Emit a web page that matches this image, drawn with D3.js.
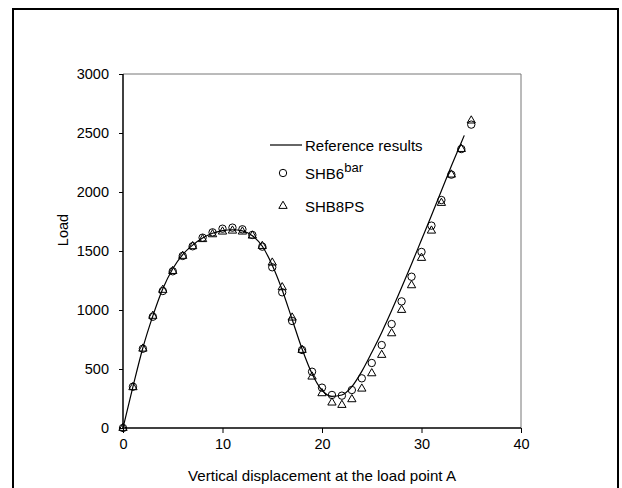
<!DOCTYPE html>
<html>
<head>
<meta charset="utf-8">
<script src="https://cdn.jsdelivr.net/npm/d3@7"></script>
<style>
  body { margin: 0; background: #fff; }
  text { font-family: "Liberation Sans", Arial, sans-serif; fill: #000; }
</style>
</head>
<body>
<svg id="svg" width="622" height="488"></svg>
<script>
// displacement steps
const steps = d3.range(0, 36);
const shb6bar = [0, 350, 672, 943, 1161, 1328, 1458, 1540, 1613, 1658, 1689, 1698, 1684, 1636, 1537, 1362,
    1150, 907, 661, 477, 342, 280, 274, 322, 421, 551, 703, 881, 1073, 1282, 1492, 1715, 1932, 2147, 2364, 2571];
const shb8ps = [0, 345, 672, 950, 1170, 1330, 1458, 1540, 1600, 1641, 1664, 1672, 1664, 1630, 1542, 1401,
    1192, 935, 661, 435, 294, 215, 195, 243, 333, 463, 619, 802, 1000, 1209, 1441, 1672, 1907, 2147, 2364, 2605];
// reference curve
const refX = [0, 1, 2, 3, 4, 5, 6, 7, 8, 9, 10, 11, 12, 13, 14, 15, 16, 17, 18, 19, 20, 21, 22, 23, 24, 25,
    26, 27, 28, 29, 30, 31, 32, 33, 34, 34.3];
const refY = [0, 350, 680, 950, 1180, 1350, 1470, 1550, 1610, 1650, 1672, 1680, 1670, 1630, 1540, 1380,
    1170, 920, 670, 460, 320, 268, 280, 350, 480, 640, 810, 995, 1190, 1390, 1595, 1800, 2010, 2220, 2420, 2480];
const xTicks = [0, 10, 20, 30, 40];
const yTicks = [0, 500, 1000, 1500, 2000, 2500, 3000];

const svg = d3.select('#svg');
const mLeft = 123, mRight = 521, mTop = 74, mBottom = 428;

// outer frame
svg.append('rect')
    .attr('x', 13).attr('y', 9)
    .attr('width', 605).attr('height', 490)
    .attr('fill', 'none').attr('stroke', '#000').attr('stroke-width', 2);

const x = d3.scaleLinear().domain([0, 40]).range([mLeft, mRight]);
const y = d3.scaleLinear().domain([0, 3000]).range([mBottom, mTop]);

// top and right frame lines of the plot
svg.append('path')
    .attr('d', `M${mLeft},${mTop}H${mRight}V${mBottom}`)
    .attr('fill', 'none').attr('stroke', '#777').attr('stroke-width', 1);

const xAxis = svg.append('g')
    .attr('transform', `translate(0,${mBottom})`)
    .call(d3.axisBottom(x).tickValues(xTicks).tickSize(5).tickPadding(6).tickFormat(d3.format('d')));
const yAxis = svg.append('g')
    .attr('transform', `translate(${mLeft},0)`)
    .call(d3.axisLeft(y).tickValues(yTicks).tickSize(4).tickPadding(10).tickFormat(d3.format('d')));

[xAxis, yAxis].forEach(g => {
    g.select('.domain').attr('stroke', '#000').attr('stroke-width', 1.5);
    g.selectAll('.tick line').attr('stroke', '#000');
    g.selectAll('.tick text').attr('font-size', 14.5)
        .attr('font-family', '"Liberation Sans", Arial, sans-serif');
});
xAxis.select('.domain').attr('d', `M${mLeft},0H${mRight}`);
yAxis.select('.domain').attr('d', `M0,${mTop}V${mBottom}`);

svg.append('text')
    .attr('x', (mLeft + mRight) / 2).attr('y', 481)
    .attr('text-anchor', 'middle').attr('font-size', 15)
    .attr('textLength', 268).attr('lengthAdjust', 'spacingAndGlyphs')
    .text('Vertical displacement at the load point A');

svg.append('text')
    .attr('transform', 'translate(68,230) rotate(-90)')
    .attr('text-anchor', 'middle').attr('font-size', 14.5)
    .text('Load');

// reference line
const line = d3.line().x(d => x(d[0])).y(d => y(d[1])).curve(d3.curveMonotoneX);
svg.append('path')
    .datum(d3.zip(refX, refY))
    .attr('d', line)
    .attr('fill', 'none').attr('stroke', '#000').attr('stroke-width', 1.2);

// circles
svg.append('g').selectAll('circle')
    .data(d3.zip(steps, shb6bar))
    .join('circle')
    .attr('cx', d => x(d[0])).attr('cy', d => y(d[1]))
    .attr('r', 3.7)
    .attr('fill', 'none').attr('stroke', '#000').attr('stroke-width', 1);

// triangles
const tri = d3.symbol().type(d3.symbolTriangle).size(30);
svg.append('g').selectAll('path')
    .data(d3.zip(steps, shb8ps))
    .join('path')
    .attr('d', tri)
    .attr('transform', d => `translate(${x(d[0])},${y(d[1])})`)
    .attr('fill', 'none').attr('stroke', '#000').attr('stroke-width', 1);

// legend
const lg = svg.append('g');
lg.append('line').attr('x1', 270).attr('x2', 302).attr('y1', 145).attr('y2', 145)
    .attr('stroke', '#000').attr('stroke-width', 1.2);
lg.append('text').attr('x', 305).attr('y', 150.5).attr('font-size', 15).text('Reference results');
lg.append('circle').attr('cx', 283).attr('cy', 173).attr('r', 3.7)
    .attr('fill', 'none').attr('stroke', '#000');
const t2 = lg.append('text').attr('x', 305).attr('y', 179).attr('font-size', 15);
t2.append('tspan').text('SHB6');
t2.append('tspan').attr('dy', -7).attr('font-size', 13).text('bar');
lg.append('path').attr('d', tri).attr('transform', 'translate(283,206)')
    .attr('fill', 'none').attr('stroke', '#000');
lg.append('text').attr('x', 305).attr('y', 212).attr('font-size', 15).text('SHB8PS');
</script>
</body>
</html>
